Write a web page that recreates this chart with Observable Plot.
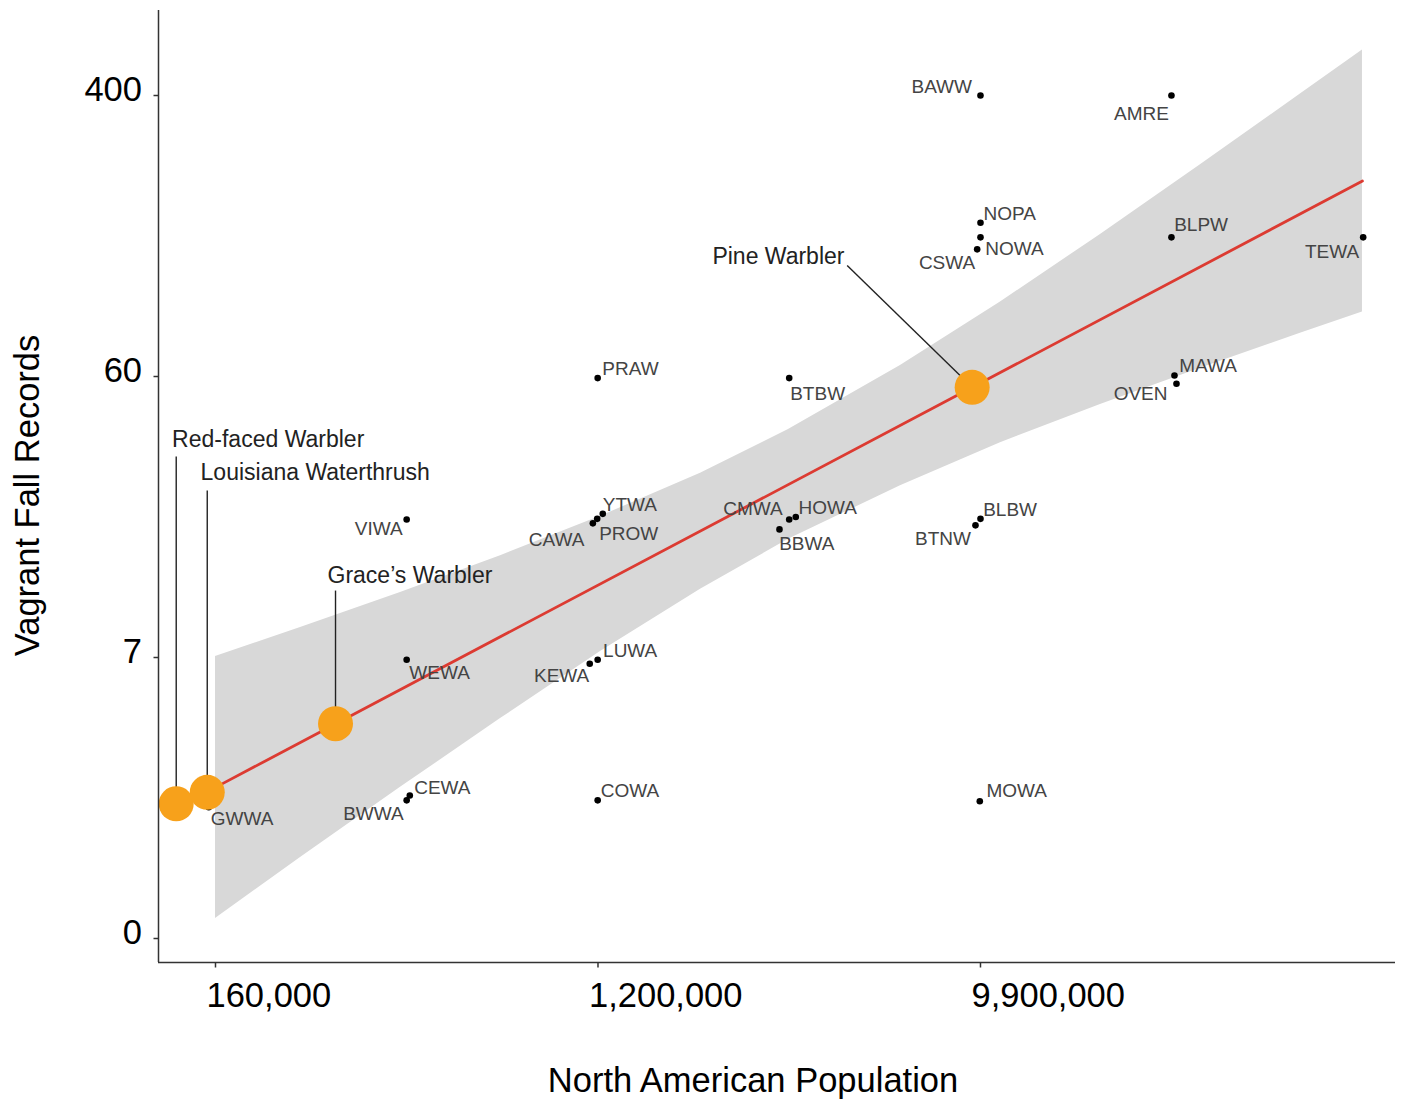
<!DOCTYPE html>
<html><head><meta charset="utf-8">
<script src="https://cdn.jsdelivr.net/npm/d3@7"></script>
<script src="https://cdn.jsdelivr.net/npm/@observablehq/plot@0.6"></script>
<style>body{margin:0;background:#fff} #chart svg{display:block}</style>
</head><body><div id="chart"></div>
<script>
// ---- data ----
const species = ["BAWW","AMRE","NOPA","NOWA","CSWA","BLPW","TEWA","MAWA","OVEN","PRAW","BTBW","YTWA","PROW","CAWA","CMWA","HOWA","BBWA","BLBW","BTNW","VIWA","WEWA","LUWA","KEWA","CEWA","BWWA","COWA","MOWA","GWWA"];
const population = [9900000,28390000,9900000,9900000,9721000,28390000,81760000,28870000,29190000,1198000,3446000,1232000,1195000,1168000,3446000,3573000,3266000,9900000,9630000,438000,438000,1198000,1149000,445300,438000,1198000,9862000,154400];
const records = [400,400,170,154,142,154,154,60.4,56.9,59.3,59.3,21.6,20.8,20.1,20.7,21.1,19.2,20.8,19.8,20.7,6.87,6.87,6.64,1.88,1.78,1.78,1.76,1.64];

const highlightNames = ["Red-faced Warbler","Louisiana Waterthrush","Grace\u2019s Warbler","Pine Warbler"];
const highlightPopulation = [130100,153200,301100,9455000];
const highlightRecords = [1.71,1.95,3.90,55.4];
const highlightLabelPopulation = [130100,153200,301100,4745000];
const highlightLabelRecords = [33.2,25.75,11.98,127.3];

const bandPopulation = [160000,250400,424000,718100,1216600,2112500,3432000,6366000,11053000,19190000,33310000,57820000,81440000];
const bandLower = [0.16,0.82,2.06,4.09,7.36,12.1,17.8,26.7,36.8,48.8,63.5,80.5,93];
const bandUpper = [7.06,8.94,11.8,15.7,21.2,29.3,40.6,64.7,99.5,157,251,404,543];

const fitPopulation = [160000,81440000];
const fitRecords = [2.06,225];

const xTickValues = [160000,1200000,9900000];
const xTickLabels = ["160,000","1,200,000","9,900,000"];
const yTickValues = [0,7,60,400];
const yTickLabels = ["0","7","60","400"];

// ---- label placement (layout, not data) ----
const labelPlacement = [
  ["end",-8.5,-2.4],["end",-2.5,24.3],["start",3,-2.3],["start",4.7,17.3],["end",-2,19.6],
  ["start",2.7,-6.7],["end",-4,20.6],["start",4.7,-3.3],["end",-9,16],["start",4.7,-3.4],
  ["start",1,21.6],["start",0,-2.6],["start",2,20.7],["end",-8.5,22.3],["end",-6.5,-4],
  ["start",2.7,-2.7],["start",-0.3,20.3],["start",2.7,-3.3],["end",-4.5,20],["end",-4,16],
  ["start",2.7,19],["start",5.4,-2.6],["end",-0.5,18.4],["start",4.4,-1.7],["end",-3,19.3],
  ["start",3.1,-3.3],["start",6.7,-4.7],["start",2.1,17.3]
];
const highlightPlacement = [["start",-4.1,-9.3],["start",-6.7,-10.7],["start",-8,-7.3],["end",-2.7,-1.7]];

// ---- axis transforms (axis ticks are evenly spaced in the figure) ----
const xIndex = d3.scaleLinear().domain(xTickValues.map(Math.log)).range(xTickValues.map((d,i)=>i));
const tx = p => xIndex(Math.log(p));
const yIndex = d3.scaleLinear().domain(yTickValues.map(v=>Math.log1p(v))).range(yTickValues.map((d,i)=>i));
const ty = v => yIndex(Math.log1p(v));

const points = species.map((s,i)=>({s, p: population[i], r: records[i], pl: labelPlacement[i]}));
const highlights = highlightNames.map((n,i)=>({n, p: highlightPopulation[i], r: highlightRecords[i], lp: highlightLabelPopulation[i], lr: highlightLabelRecords[i], pl: highlightPlacement[i]}));
const band = bandPopulation.map((p,i)=>({p, lo: bandLower[i], hi: bandUpper[i]}));
const fit = fitPopulation.map((p,i)=>({p, r: fitRecords[i]}));
const xt = xTickValues.map((v,i)=>({v, t: xTickLabels[i]}));
const yt = yTickValues.map((v,i)=>({v, t: yTickLabels[i]}));

const xDomain = [-0.149, 3.085];
const yDomain = [-0.0854, 3.3025];
const x0 = xDomain[0], y0 = yDomain[0];
const FONT = "Liberation Sans, Arial, Helvetica, sans-serif";
const AX = "#333";

const pointLabels = points.map(d => Plot.text([d], {
  x: d=>tx(d.p), y: d=>ty(d.r), text: "s",
  textAnchor: d.pl[0], dx: d.pl[1], dy: d.pl[2], lineAnchor: "bottom",
  fontSize: 19, fill: "#444", fontFamily: FONT
}));
const hlLabels = highlights.map(d => Plot.text([d], {
  x: d=>tx(d.lp), y: d=>ty(d.lr), text: "n",
  textAnchor: d.pl[0], dx: d.pl[1], dy: d.pl[2], lineAnchor: "bottom",
  fontSize: 23, fill: "#222", fontFamily: FONT
}));

const chart = Plot.plot({
  width: 1402, height: 1099,
  marginLeft: 158, marginRight: 7, marginTop: 10, marginBottom: 137,
  style: {background: "#fff", fontFamily: FONT},
  x: {type: "linear", domain: xDomain, axis: null},
  y: {type: "linear", domain: yDomain, axis: null},
  marks: [
    Plot.areaY(band, {x: d=>tx(d.p), y1: d=>ty(d.lo), y2: d=>ty(d.hi), fill: "#D8D8D8"}),
    Plot.line(fit, {x: d=>tx(d.p), y: d=>ty(d.r), stroke: "#DC3B32", strokeWidth: 2.8}),
    Plot.dot(points, {x: d=>tx(d.p), y: d=>ty(d.r), r: 3.3, fill: "#000"}),
    ...pointLabels,
    Plot.link(highlights, {x1: d=>tx(d.lp), y1: d=>ty(d.lr), x2: d=>tx(d.p), y2: d=>ty(d.r), stroke: "#222", strokeWidth: 1.4}),
    Plot.dot(highlights, {x: d=>tx(d.p), y: d=>ty(d.r), r: 17.5, fill: "#F7A11B"}),
    ...hlLabels,
    // axes
    Plot.ruleX([x0], {stroke: AX, strokeWidth: 1.5}),
    Plot.ruleY([y0], {stroke: AX, strokeWidth: 1.5}),
    Plot.link(yt, {x1: x0 - 5/382.5, x2: x0, y1: d=>ty(d.v), y2: d=>ty(d.v), stroke: AX, strokeWidth: 1.5}),
    Plot.link(xt, {x1: d=>tx(d.v), x2: d=>tx(d.v), y1: y0, y2: y0 - 5/281, stroke: AX, strokeWidth: 1.5}),
    Plot.text(yt, {x: x0, y: d=>ty(d.v), text: "t", textAnchor: "end", dx: -16.5, dy: 5.5, lineAnchor: "bottom", fontSize: 34.5, fill: "#000", fontFamily: FONT}),
    Plot.text(xt, {x: d=>tx(d.v), y: y0, text: "t", textAnchor: "start", dx: -9, dy: 44, lineAnchor: "bottom", fontSize: 34.5, fill: "#000", fontFamily: FONT}),
    Plot.text(["North American Population"], {frameAnchor: "bottom", dx: -24, dy: 129, lineAnchor: "bottom", fontSize: 34.5, fill: "#000", fontFamily: FONT}),
    Plot.text(["Vagrant Fall Records"], {frameAnchor: "left", rotate: -90, dx: -120, dy: 9, lineAnchor: "bottom", textAnchor: "middle", fontSize: 34.5, fill: "#000", fontFamily: FONT})
  ]
});
document.getElementById("chart").appendChild(chart);
</script>
</body></html>
